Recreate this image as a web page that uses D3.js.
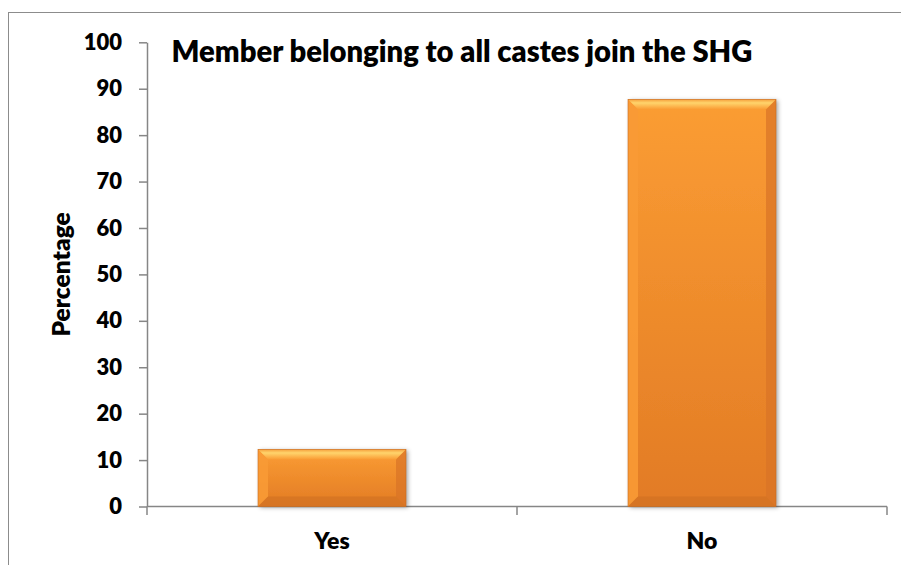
<!DOCTYPE html>
<html>
<head>
<meta charset="utf-8">
<script src="https://cdn.jsdelivr.net/npm/d3@7/dist/d3.min.js"></script>
<style>
  html, body { margin: 0; padding: 0; background: #fff; }
  svg { display: block; }
  text { font-family: Lato, "Open Sans", "Noto Sans", sans-serif; font-weight: 800; fill: #000; }
</style>
</head>
<body>
<svg id="chart" width="901" height="565"></svg>
<script>
// Survey answers and share of respondents (%)
const categories = ["Yes", "No"];
const values = [12.3, 87.7];
const yTicks = [0, 10, 20, 30, 40, 50, 60, 70, 80, 90, 100];
const titleText = "Member belonging to all castes join the SHG";
const yTitle = "Percentage";

const svg = d3.select("#chart");
const W = 901, H = 565;
const plot = { left: 147, right: 887, top: 42.3, bottom: 506.5 };

// outer frame of the chart area
svg.append("rect")
  .attr("x", 8.5).attr("y", 12.5)
  .attr("width", W + 10).attr("height", H + 10)
  .attr("fill", "#fff").attr("stroke", "#8c8c8c").attr("stroke-width", 1);

const x = d3.scaleBand()
  .domain(categories)
  .range([plot.left, plot.right])
  .paddingInner(0.6)
  .paddingOuter(0.3);

const y = d3.scaleLinear().domain([0, 100]).range([plot.bottom, plot.top]);

const defs = svg.append("defs");
const face = defs.append("linearGradient").attr("id", "face")
  .attr("x1", 0).attr("y1", 0).attr("x2", 0).attr("y2", 1);
face.append("stop").attr("offset", "0%").attr("stop-color", "#fb9d33");
face.append("stop").attr("offset", "100%").attr("stop-color", "#e27b25");

const topBevel = defs.append("linearGradient").attr("id", "topBevel")
  .attr("x1", 0).attr("y1", 0).attr("x2", 0).attr("y2", 1);
topBevel.append("stop").attr("offset", "0%").attr("stop-color", "#f6a03c");
topBevel.append("stop").attr("offset", "35%").attr("stop-color", "#ffd46c");
topBevel.append("stop").attr("offset", "100%").attr("stop-color", "#fa9c34");

const shadow = defs.append("filter").attr("id", "shadow")
  .attr("x", "-10%").attr("y", "-10%").attr("width", "130%").attr("height", "130%");
shadow.append("feDropShadow")
  .attr("dx", 2).attr("dy", 1).attr("stdDeviation", 2.2)
  .attr("flood-color", "#000").attr("flood-opacity", 0.35);

// y axis
const yAxis = d3.axisLeft(y).tickValues(yTicks).tickSize(8).tickPadding(17).tickSizeOuter(0);
const gy = svg.append("g").attr("transform", `translate(${plot.left},0)`).call(yAxis);
gy.select(".domain").attr("stroke", "#868686").attr("stroke-width", 1.5);
gy.selectAll(".tick line").attr("stroke", "#868686").attr("stroke-width", 1.5);
gy.selectAll(".tick text").attr("font-size", 22).attr("font-family", null).attr("fill", "#000");

// x axis line with ticks on category boundaries
const boundaries = categories.map(c => x(c) - x.step() * x.paddingOuter()).concat([plot.right]);
svg.append("line")
  .attr("x1", plot.left).attr("x2", plot.right)
  .attr("y1", y(0)).attr("y2", y(0))
  .attr("stroke", "#868686").attr("stroke-width", 1.5);
svg.selectAll(".xtick").data(boundaries).join("line")
  .attr("class", "xtick")
  .attr("x1", d => d).attr("x2", d => d)
  .attr("y1", y(0)).attr("y2", y(0) + 8.5)
  .attr("stroke", "#868686").attr("stroke-width", 1.5);

// bars with bevelled edges
const bars = svg.selectAll(".bar").data(categories.map((c, i) => ({ c, v: values[i] })))
  .join("g").attr("class", "bar");

bars.each(function (d) {
  const g = d3.select(this);
  const x0 = x(d.c), x1 = x(d.c) + x.bandwidth();
  const y0 = y(d.v), y1 = y(0);
  const b = 10;
  g.append("rect")
    .attr("x", x0).attr("y", y0).attr("width", x1 - x0).attr("height", y1 - y0)
    .attr("fill", "url(#face)").attr("filter", "url(#shadow)");
  const poly = pts => g.append("polygon").attr("points", pts.map(p => p.join(",")).join(" "));
  poly([[x0, y0], [x1, y0], [x1 - b, y0 + b], [x0 + b, y0 + b]]).attr("fill", "url(#topBevel)");
  poly([[x0, y0], [x0 + b, y0 + b], [x0 + b, y1 - b], [x0, y1]]).attr("fill", "#f89a35").attr("opacity", 0.9);
  poly([[x1, y0], [x1 - b, y0 + b], [x1 - b, y1 - b], [x1, y1]]).attr("fill", "#d87426").attr("opacity", 0.7);
  poly([[x0, y1], [x0 + b, y1 - b], [x1 - b, y1 - b], [x1, y1]]).attr("fill", "#cf6f22").attr("opacity", 0.6);
  g.append("rect")
    .attr("x", x0).attr("y", y0).attr("width", x1 - x0).attr("height", y1 - y0)
    .attr("fill", "none").attr("stroke", "#c96d22").attr("stroke-width", 0.6);
});

// category labels
svg.selectAll(".xlabel").data(categories).join("text")
  .attr("class", "xlabel")
  .attr("x", d => x(d) + x.bandwidth() / 2)
  .attr("y", 548.5)
  .attr("text-anchor", "middle")
  .attr("font-size", 23)
  .text(d => d);

// axis title
svg.append("text")
  .attr("transform", `translate(70,${(plot.top + plot.bottom) / 2}) rotate(-90)`)
  .attr("text-anchor", "middle")
  .attr("font-size", 24.5)
  .text(yTitle);

// chart title, sized to span its slot
const title = svg.append("text")
  .attr("x", 171.5).attr("y", 62)
  .attr("font-size", 26)
  .text(titleText);
const tw = title.node().getComputedTextLength();
title.attr("font-size", 26 * 581 / tw);
</script>
</body>
</html>
